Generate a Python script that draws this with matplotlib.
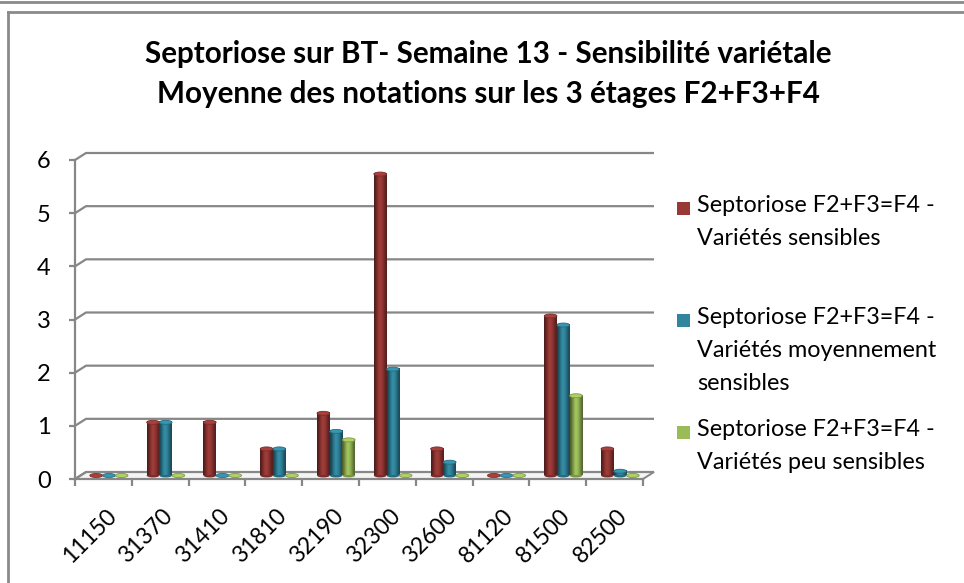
import numpy as np
import matplotlib
matplotlib.use('Agg')
import matplotlib.pyplot as plt
from matplotlib import font_manager
from matplotlib.patches import Polygon, Rectangle, Ellipse
from matplotlib.lines import Line2D

# données
categories = ['11150', '31370', '31410', '31810', '32190', '32300', '32600', '81120', '81500', '82500']
sensibles = [0, 1, 1, 0.5, 1.17, 5.67, 0.5, 0, 3, 0.5]
moyennement = [0, 1, 0, 0.5, 0.83, 2, 0.25, 0, 2.83, 0.08]
peu_sensibles = [0, 0, 0, 0, 0.67, 0, 0, 0, 1.5, 0]
series_labels = ['Septoriose F2+F3=F4 -\nVariétés sensibles',
                 'Septoriose F2+F3=F4 -\nVariétés moyennement\nsensibles',
                 'Septoriose F2+F3=F4 -\nVariétés peu sensibles']
colors = ['#983936', '#31869e', '#9bbb59']
title = 'Septoriose sur BT- Semaine 13 - Sensibilité variétale\nMoyenne des notations sur les 3 étages F2+F3+F4'

# police proche de Calibri
font = 'DejaVu Sans'
for f in ['Liberation Sans Narrow', 'Lato', 'Open Sans']:
    try:
        font_manager.findfont(f, fallback_to_default=False)
        font = f
        break
    except Exception:
        pass
plt.rcParams['font.family'] = [font, 'DejaVu Sans']

W, H = 964, 583
fig = plt.figure(figsize=(W / 100, H / 100), dpi=100)


def fx(x):
    return x / W


def fy(y):
    return 1 - y / H


grey = '#878787'
# axes: axe avant de x=75 à 643 px, y=479 (0) à 160 (6)
ax = fig.add_axes([fx(75), fy(479), fx(643 - 75), (479 - 160) / H])
n = len(categories)
ppx = (643 - 75) / n          # pixels par catégorie
ppy = (479 - 160) / 6         # pixels par unité
dx = 11 / ppx                 # décalage 3D
dy = 7 / ppy

# sol
floor = Polygon([(-0.5, 0), (n - 0.5, 0), (n - 0.5 + dx, dy), (-0.5 + dx, dy)],
                closed=True, facecolor='#f4f4f4', edgecolor=grey, lw=1.4, clip_on=False, zorder=1)
ax.add_patch(floor)

# quadrillage du fond
for t in range(0, 7):
    ax.plot([-0.5, -0.5 + dx, n - 0.5 + dx], [t, t + dy, t + dy], color=grey, lw=1.6,
            clip_on=False, zorder=1 if t else 2, solid_capstyle='butt')

# barres cylindriques
bw = 12.7 / ppx
shade = np.array([0.5, 0.72, 0.92, 1.08, 1.02, 0.9, 0.72, 0.55])
for k, (vals, col) in enumerate(zip([sensibles, moyennement, peu_sensibles], colors)):
    base = np.array(matplotlib.colors.to_rgb(col))
    grad = np.clip(shade[:, None] * base[None, :], 0, 1)[None, :, :]
    for i, v in enumerate(vals):
        x0 = i + dx / 2 + (k - 1) * bw - bw / 2
        y0 = dy / 2
        eh = 4 / ppy
        if v > 0:
            ax.imshow(grad, extent=(x0, x0 + bw, y0, y0 + v), aspect='auto',
                      interpolation='bicubic', zorder=3, clip_on=False)
            ax.add_patch(Ellipse((x0 + bw / 2, y0), bw, eh, facecolor=tuple(base * 0.8),
                                 edgecolor='none', zorder=2.9, clip_on=False))
        top_col = tuple(np.clip(base * 1.12, 0, 1))
        ax.add_patch(Ellipse((x0 + bw / 2, y0 + v), bw, eh, facecolor=top_col,
                             edgecolor=tuple(base * 0.8), lw=0.6, zorder=4, clip_on=False))
ax.set_xlim(-0.5, n - 0.5)
ax.set_ylim(0, 6)

# axes
for s in ['top', 'right']:
    ax.spines[s].set_visible(False)
for s in ['left', 'bottom']:
    ax.spines[s].set_color(grey)
    ax.spines[s].set_linewidth(1.6)
    ax.spines[s].set_zorder(5)
ax.set_yticks(range(0, 7))
ax.tick_params(axis='y', length=4.5, width=1.6, color=grey, labelsize=17, pad=13, labelcolor='black')
ax.set_xticks(np.arange(n))
ax.set_xticks(np.arange(-0.5, n), minor=True)
ax.set_xticklabels(categories, rotation=45, ha='right', rotation_mode='anchor', fontsize=16.5)
ax.tick_params(axis='x', which='major', length=0, pad=19)
ax.tick_params(axis='x', which='minor', length=5, width=1.6, color=grey)
for lab in ax.get_xticklabels():
    lab.set_transform(lab.get_transform() + matplotlib.transforms.ScaledTranslation(0.02, 0, fig.dpi_scale_trans))

# titre
fig.text(fx(488), fy(74), title, ha='center', va='center', fontsize=21.3, fontweight='bold',
         linespacing=1.55)

# légende
legend_lines = [208, 320, 432]
for lab, col, yl in zip(series_labels, colors, legend_lines):
    fig.add_artist(Rectangle((fx(677), fy(yl + 7)), fx(13), 13 / H, facecolor=col, edgecolor='none'))
    fig.text(fx(697), fy(yl - 13), lab, ha='left', va='top', fontsize=16.8, linespacing=1.7)

# cadres
fig.add_artist(Line2D([0, 1], [fy(1.5), fy(1.5)], color='#8a8a8a', lw=2))
fig.add_artist(Line2D([fx(8), 1], [fy(12), fy(12)], color='#8a8a8a', lw=2))
fig.add_artist(Line2D([fx(8), fx(8)], [fy(12), 0], color='#8a8a8a', lw=2))

fig.savefig('out.png', dpi=100)
